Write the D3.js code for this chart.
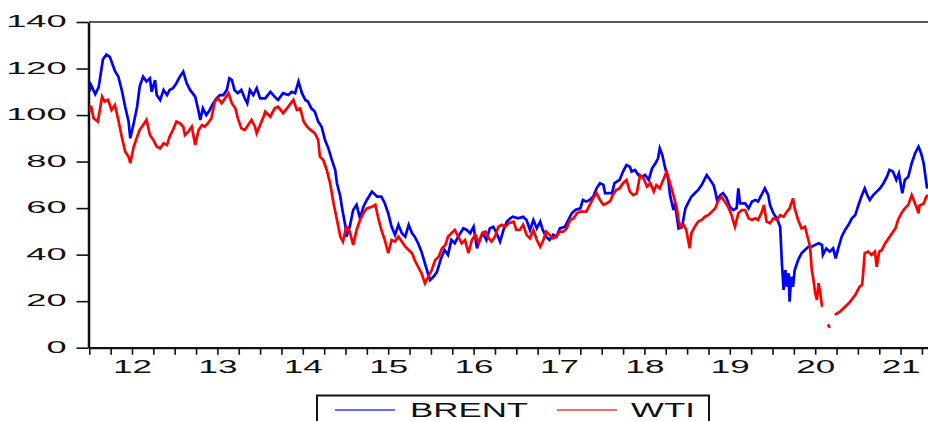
<!DOCTYPE html>
<html>
<head>
<meta charset="utf-8">
<script src="https://cdn.jsdelivr.net/npm/d3@7"></script>
<style>
  html, body { margin: 0; padding: 0; background: #fff; }
  svg { display: block; }
</style>
</head>
<body>
<svg id="chart" width="928" height="421"></svg>
<script>
// Daily crude oil benchmarks, US$ per barrel (decimal years on the time axis)
const yearLabels = [2012, 2013, 2014, 2015, 2016, 2017, 2018, 2019, 2020, 2021];
const priceTicks = [0, 20, 40, 60, 80, 100, 120, 140];
const seriesNames = ["BRENT", "WTI"];

const brentYears = [
  2012.00, 2012.02, 2012.07, 2012.11, 2012.16, 2012.20, 2012.24, 2012.28, 2012.30, 2012.34,
  2012.38, 2012.42, 2012.46, 2012.48, 2012.52, 2012.56, 2012.59, 2012.63, 2012.67, 2012.71,
  2012.73, 2012.77, 2012.79, 2012.83, 2012.87, 2012.91, 2012.94, 2012.98, 2013.02, 2013.06,
  2013.10, 2013.14, 2013.18, 2013.24, 2013.28, 2013.30, 2013.33, 2013.37, 2013.41, 2013.45,
  2013.49, 2013.53, 2013.57, 2013.61, 2013.64, 2013.67, 2013.70, 2013.74, 2013.78, 2013.82,
  2013.85, 2013.88, 2013.92, 2013.96, 2014.00, 2014.06, 2014.12, 2014.17, 2014.21, 2014.27,
  2014.33, 2014.37, 2014.41, 2014.45, 2014.49, 2014.53, 2014.56, 2014.60, 2014.64, 2014.68,
  2014.72, 2014.76, 2014.80, 2014.84, 2014.88, 2014.90, 2014.94, 2014.96, 2015.00, 2015.01,
  2015.05, 2015.09, 2015.13, 2015.17, 2015.21, 2015.25, 2015.31, 2015.37, 2015.42, 2015.46,
  2015.50, 2015.54, 2015.58, 2015.62, 2015.66, 2015.70, 2015.74, 2015.78, 2015.81, 2015.85,
  2015.89, 2015.93, 2015.97, 2015.99, 2016.03, 2016.07, 2016.12, 2016.16, 2016.20, 2016.24,
  2016.28, 2016.32, 2016.38, 2016.42, 2016.46, 2016.50, 2016.54, 2016.57, 2016.61, 2016.65,
  2016.69, 2016.73, 2016.77, 2016.81, 2016.85, 2016.89, 2016.93, 2016.96, 2017.02, 2017.08,
  2017.12, 2017.16, 2017.20, 2017.24, 2017.28, 2017.31, 2017.35, 2017.39, 2017.43, 2017.47,
  2017.51, 2017.57, 2017.61, 2017.65, 2017.69, 2017.75, 2017.78, 2017.82, 2017.86, 2017.90,
  2017.94, 2017.98, 2018.02, 2018.04, 2018.08, 2018.12, 2018.15, 2018.21, 2018.25, 2018.29,
  2018.33, 2018.35, 2018.39, 2018.43, 2018.47, 2018.51, 2018.55, 2018.59, 2018.63, 2018.66,
  2018.68, 2018.71, 2018.74, 2018.78, 2018.80, 2018.84, 2018.86, 2018.88, 2018.90, 2018.94,
  2018.98, 2019.01, 2019.05, 2019.09, 2019.13, 2019.17, 2019.21, 2019.23, 2019.27, 2019.31,
  2019.33, 2019.35, 2019.39, 2019.42, 2019.46, 2019.50, 2019.54, 2019.58, 2019.60, 2019.62,
  2019.64, 2019.68, 2019.72, 2019.76, 2019.80, 2019.83, 2019.87, 2019.91, 2019.95, 2019.97,
  2020.01, 2020.05, 2020.09, 2020.11, 2020.13, 2020.15, 2020.17, 2020.19, 2020.20, 2020.22,
  2020.24, 2020.26, 2020.30, 2020.34, 2020.38, 2020.42, 2020.46, 2020.50, 2020.54, 2020.58,
  2020.59, 2020.63, 2020.67, 2020.71, 2020.74, 2020.77, 2020.81, 2020.85, 2020.89, 2020.93,
  2020.97, 2021.00, 2021.04, 2021.08, 2021.11, 2021.14, 2021.18, 2021.22, 2021.26, 2021.30,
  2021.34, 2021.37, 2021.41, 2021.45, 2021.48, 2021.52, 2021.55, 2021.59, 2021.63, 2021.67,
  2021.71, 2021.74, 2021.77, 2021.81, 2021.82
];
const brentPrices = [
  110, 113, 109, 112, 124, 126, 125, 121, 119, 116.5,
  110.8, 103.6, 97.2, 90, 96.5, 103.6, 112.2, 116.5, 114.4, 115.8,
  110, 115, 108.6, 106.5, 110.8, 108.6, 110.8, 111.5, 113.7, 116.5,
  118.7, 113.7, 110.8, 107.9, 101.5, 97.9, 102.9, 100, 102.2, 105,
  107.2, 108.6, 108.6, 110.8, 115.8, 115, 110.8, 109.4, 110.8, 107.2,
  105, 110.8, 108.6, 111.5, 107.2, 107.2, 110, 107.9, 106.5, 109.4,
  108.6, 110, 109.4, 114.4, 109.4, 106.5, 105.8, 102.9, 101.5, 97.2,
  95, 89.3, 85.7, 80.7, 76.4, 70.7, 64.9, 59.9, 52, 47.7,
  52, 59.2, 61.4, 55.6, 60.6, 63.5, 67.1, 64.9, 64.9, 62.1,
  57.8, 52, 48.5, 52.8, 49.2, 47.7, 52.8, 49.2, 47.7, 44.9,
  41.3, 36.3, 31.3, 29.1, 30.5, 32.5, 38.5, 42, 39.9, 46.3,
  44.9, 47.7, 51.3, 50.6, 49.2, 52, 42.7, 46.3, 49.2, 46.3,
  51.3, 52, 49.2, 45.6, 50.6, 54.2, 55.6, 56.3, 55.6, 56.3,
  54.9, 50.6, 54.9, 51.3, 54.2, 50.6, 47.7, 46.3, 48.5, 47.7,
  51.3, 52, 54.9, 57.8, 59.2, 59.9, 63.5, 62.8, 63.5, 64.9,
  68.5, 70.7, 70, 66.4, 66.5, 66.4, 70.7, 72.1, 75.7, 78.5,
  77.8, 75.7, 76.4, 74.2, 73.5, 74.2, 72.1, 77.1, 79.3, 81.4,
  85.7, 82.8, 77.8, 72.1, 65.6, 59.2, 62, 56.3, 51.3, 51.8,
  59.9, 62.1, 64.9, 66.4, 67.8, 69.9, 72.8, 74.2, 72.1, 69.9,
  67.1, 63.5, 65.6, 66.4, 64.5, 60.6, 59.2, 60, 68.5, 62,
  62, 62, 59.9, 62.8, 63.5, 62.8, 65.6, 68.5, 65.6, 61.4,
  57.8, 55.6, 52, 36.3, 24.8, 33.4, 26.2, 32, 19.8, 30.5,
  26.2, 33.4, 37.7, 40.6, 42, 43.4, 43.4, 44.2, 44.9, 44.2,
  39.9, 42.7, 41.3, 42.7, 38.4, 42.7, 47.7, 50.6, 52.8, 55.6,
  57.1, 60.6, 64.9, 68.5, 65.6, 63.5, 65.6, 67.1, 68.5, 70.7,
  73.5, 76.4, 75.7, 72.1, 74.9, 66.4, 72.1, 73.5, 79.3, 83.6,
  86.4, 83.6, 79.3, 68.5, 70
];

// WTI has no plotted value while the contract traded below zero (April 2020)
const wtiYears = [
  2012.00, 2012.02, 2012.05, 2012.10, 2012.15, 2012.18, 2012.22, 2012.26, 2012.30, 2012.34,
  2012.38, 2012.42, 2012.46, 2012.48, 2012.52, 2012.56, 2012.59, 2012.63, 2012.67, 2012.71,
  2012.75, 2012.79, 2012.83, 2012.87, 2012.91, 2012.94, 2012.98, 2013.02, 2013.06, 2013.10,
  2013.12, 2013.16, 2013.20, 2013.24, 2013.28, 2013.32, 2013.35, 2013.39, 2013.43, 2013.47,
  2013.51, 2013.55, 2013.59, 2013.63, 2013.67, 2013.71, 2013.74, 2013.78, 2013.82, 2013.86,
  2013.90, 2013.94, 2013.96, 2014.00, 2014.04, 2014.06, 2014.12, 2014.17, 2014.21, 2014.27,
  2014.33, 2014.39, 2014.43, 2014.47, 2014.51, 2014.55, 2014.59, 2014.64, 2014.68, 2014.70,
  2014.74, 2014.78, 2014.82, 2014.86, 2014.90, 2014.94, 2014.97, 2015.01, 2015.05, 2015.09,
  2015.13, 2015.17, 2015.21, 2015.25, 2015.31, 2015.35, 2015.38, 2015.42, 2015.46, 2015.50,
  2015.54, 2015.58, 2015.62, 2015.66, 2015.70, 2015.74, 2015.78, 2015.81, 2015.85, 2015.89,
  2015.93, 2015.97, 2016.01, 2016.05, 2016.09, 2016.13, 2016.17, 2016.20, 2016.24, 2016.28,
  2016.32, 2016.36, 2016.40, 2016.44, 2016.48, 2016.52, 2016.56, 2016.60, 2016.64, 2016.67,
  2016.71, 2016.75, 2016.79, 2016.83, 2016.87, 2016.91, 2016.97, 2017.00, 2017.04, 2017.08,
  2017.12, 2017.16, 2017.20, 2017.24, 2017.28, 2017.31, 2017.35, 2017.39, 2017.43, 2017.47,
  2017.51, 2017.55, 2017.59, 2017.63, 2017.67, 2017.71, 2017.75, 2017.82, 2017.86, 2017.90,
  2017.94, 2017.98, 2018.02, 2018.06, 2018.10, 2018.13, 2018.17, 2018.21, 2018.25, 2018.29,
  2018.33, 2018.37, 2018.41, 2018.45, 2018.49, 2018.53, 2018.57, 2018.61, 2018.64, 2018.68,
  2018.72, 2018.76, 2018.80, 2018.84, 2018.88, 2018.90, 2018.92, 2018.96, 2018.99, 2019.03,
  2019.05, 2019.09, 2019.13, 2019.17, 2019.21, 2019.25, 2019.29, 2019.33, 2019.36, 2019.40,
  2019.44, 2019.48, 2019.52, 2019.56, 2019.60, 2019.64, 2019.68, 2019.72, 2019.76, 2019.80,
  2019.83, 2019.87, 2019.90, 2019.93, 2019.97, 2020.01, 2020.05, 2020.09, 2020.13, 2020.17,
  2020.20, 2020.24, 2020.26, 2020.30, 2020.34, 2020.38, 2020.40, 2020.42, 2020.44, 2020.46,
  2020.48, 2020.50, 2020.52, 2020.54, 2020.56, 2020.58, 2020.61, 2020.65, 2020.67, 2020.70,
  2020.73, 2020.79, 2020.85, 2020.91, 2020.97, 2021.02, 2021.05, 2021.08, 2021.12, 2021.16,
  2021.20, 2021.22, 2021.25, 2021.28, 2021.32, 2021.36, 2021.40, 2021.44, 2021.47, 2021.51,
  2021.55, 2021.59, 2021.63, 2021.66, 2021.69, 2021.71, 2021.72, 2021.77, 2021.80, 2021.82
];
const wtiPrices = [
  101.5, 104, 98.6, 97.2, 107.9, 105.8, 106.5, 102.2, 104.3, 97.9,
  90.7, 84.3, 82.1, 79.3, 86.4, 90.7, 93.6, 95.7, 97.9, 91.4,
  89.3, 86.4, 85.7, 87.9, 87.1, 90.7, 93.6, 97.2, 96.5, 95,
  91.4, 92.9, 95, 87.1, 93.6, 95.7, 95, 96.5, 98.6, 105.8,
  107.2, 105, 107.2, 109.4, 105, 102.9, 98.6, 94.3, 93.6, 95.7,
  97.9, 95, 92.2, 95.7, 99.3, 101.5, 99.3, 102.9, 103.6, 100.8,
  103.6, 106.5, 102.2, 102.9, 97.2, 95, 93.6, 92.2, 89.3, 82.1,
  80.7, 76.4, 70.7, 62.1, 54.9, 47.7, 45.6, 52, 49.9, 44.2,
  50.6, 54.9, 57.8, 59.9, 60.6, 61.4, 56.3, 50.6, 46.3, 40.6,
  46.3, 45.6, 47.7, 45.6, 43.4, 42, 40.6, 37.7, 34.8, 32,
  27.7, 30.5, 33.4, 37.7, 39, 42.7, 44.2, 47.7, 49.2, 50.6,
  47.7, 44.9, 46.3, 40.6, 46.3, 48.5, 44.9, 49.2, 49.9, 47.4,
  45.6, 47.7, 52, 52.8, 52, 53.5, 54.2, 50.6, 50.6, 52.8,
  48.5, 47, 50.6, 46.3, 43.4, 45.6, 49.9, 48.5, 47, 47.7,
  49.9, 49.9, 51.3, 54.9, 55.6, 57.8, 58.5, 58.5, 61.4, 64.2,
  66.4, 63.5, 61.4, 62.1, 63, 65.6, 67.8, 68.5, 70.7, 72.1,
  67.1, 65.6, 66.4, 74.2, 72.8, 69.2, 70.7, 67.1, 69.9, 68.5,
  72.1, 75.7, 70.7, 65.6, 59.9, 54.9, 52, 52.8, 50.6, 42.7,
  49.2, 52, 54.2, 54.9, 56.3, 57.1, 58.5, 59.9, 62.8, 64.9,
  62.8, 60.6, 57.1, 52, 57.8, 59.2, 59.2, 55.6, 54.9, 55.6,
  54.9, 57.8, 61.4, 54.2, 53.5, 55.6, 55, 57, 56.3, 58.5,
  59.9, 64.2, 60, 54.9, 51.3, 52, 49.2, 46.3, 43.4, 33.4,
  29.1, 23.4, 20.5, 27.7, 23.4, 17.6, null, 10, 8.5, null,
  14.1, 15.5, 17.6, 19.8, 22.7, 26.2, 27, 40.6, 41.3, 39.9,
  41.3, 34.8, 41.3, 42, 44.9, 47, 49.2, 51.3, 54.9, 57.8,
  59.9, 61.4, 65.6, 62.8, 60, 57.8, 61, 62, 64.9, 65.6
];

const seriesColors = ["#0000ff", "#ff0000"];

const svg = d3.select("#chart");
const chartW = 928;
const plotLeft = 89, plotTop = 22, plotBottom = 347.7;

const x = d3.scaleLinear().domain([2012, 2022]).range([89.3, 943.3]);
const y = d3.scaleLinear().domain([0, 140]).range([plotBottom, plotTop]);

const fontFamily = "'Liberation Sans', Arial, sans-serif";

// Clip region for the plotted series
svg.append("defs").append("clipPath").attr("id", "plot-clip")
  .append("rect").attr("x", plotLeft).attr("y", plotTop)
  .attr("width", chartW - plotLeft).attr("height", plotBottom - plotTop + 1);

// Top frame line
svg.append("line")
  .attr("x1", plotLeft).attr("x2", chartW).attr("y1", plotTop).attr("y2", plotTop)
  .attr("stroke", "#222").attr("stroke-width", 1.3);

// Left (price) axis with wide, stretched numerals
const yAxis = svg.append("g")
  .attr("transform", `translate(${plotLeft - 0.5},0)`)
  .call(d3.axisLeft(y).tickValues(priceTicks).tickSize(12).tickSizeOuter(0));
yAxis.select(".domain").attr("stroke", "#111").attr("stroke-width", 2.5);
yAxis.selectAll(".tick line").attr("stroke", "#111").attr("stroke-width", 1.6);
yAxis.selectAll(".tick text")
  .attr("x", 0).attr("dy", "0.29em")
  .attr("transform", "translate(-21.8,0) scale(2.2,1)")
  .attr("fill", "#111")
  .style("font-family", fontFamily).style("font-size", "16.5px");

// Bottom (time) axis: quarterly ticks
const quarterTicks = d3.range(0, 40).map(i => 2012 + i * 0.25);
const xAxis = svg.append("g")
  .attr("transform", `translate(0,${plotBottom})`)
  .call(d3.axisBottom(x).tickValues(quarterTicks).tickSize(7).tickSizeOuter(0).tickFormat(""));
xAxis.select(".domain").attr("stroke", "#111").attr("stroke-width", 2.2);
xAxis.selectAll(".tick line").attr("stroke", "#111").attr("stroke-width", 1.6);

// Year labels centred within each year
const yearAxis = svg.append("g")
  .attr("transform", `translate(0,${plotBottom})`)
  .call(d3.axisBottom(x).tickValues(yearLabels.map(v => v + 0.5)).tickSize(0)
    .tickFormat(d => String(Math.floor(d)).slice(2)));
yearAxis.select(".domain").remove();
yearAxis.selectAll(".tick text")
  .attr("y", 0).attr("dy", 0)
  .attr("transform", "translate(0,25.6) scale(2.0,1)")
  .attr("fill", "#111")
  .style("font-family", fontFamily).style("font-size", "17.5px");

// Price lines
const line = d3.line()
  .defined(d => d[1] != null)
  .x(d => x(d[0]))
  .y(d => y(d[1]));

const brent = brentYears.map((t, i) => [t, brentPrices[i]]);
const wti = wtiYears.map((t, i) => [t, wtiPrices[i]]);

const plot = svg.append("g").attr("clip-path", "url(#plot-clip)");
[brent, wti].forEach((data, i) => {
  plot.append("path")
    .datum(data)
    .attr("d", line)
    .attr("fill", "none")
    .attr("stroke", seriesColors[i])
    .attr("stroke-width", 2.7)
    .attr("stroke-linejoin", "miter")
    .attr("stroke-linecap", "butt");
});

// Legend box (runs off the bottom edge)
const legend = svg.append("g");
legend.append("rect")
  .attr("x", 317).attr("y", 395.5).attr("width", 392).attr("height", 40)
  .attr("fill", "#fff").attr("stroke", "#111").attr("stroke-width", 2);

const legendItems = [
  { name: seriesNames[0], color: "#3a3aff", x1: 335, x2: 395, tx: 410 },
  { name: seriesNames[1], color: "#ff3a3a", x1: 557, x2: 617, tx: 631 }
];
legendItems.forEach(it => {
  legend.append("line")
    .attr("x1", it.x1).attr("x2", it.x2).attr("y1", 410).attr("y2", 410)
    .attr("stroke", it.color).attr("stroke-width", 1.3);
  legend.append("text")
    .attr("transform", `translate(${it.tx},417.3) scale(1.7,1)`)
    .attr("fill", "#111")
    .style("font-family", fontFamily).style("font-size", "20.5px")
    .text(it.name);
});
</script>
</body>
</html>
